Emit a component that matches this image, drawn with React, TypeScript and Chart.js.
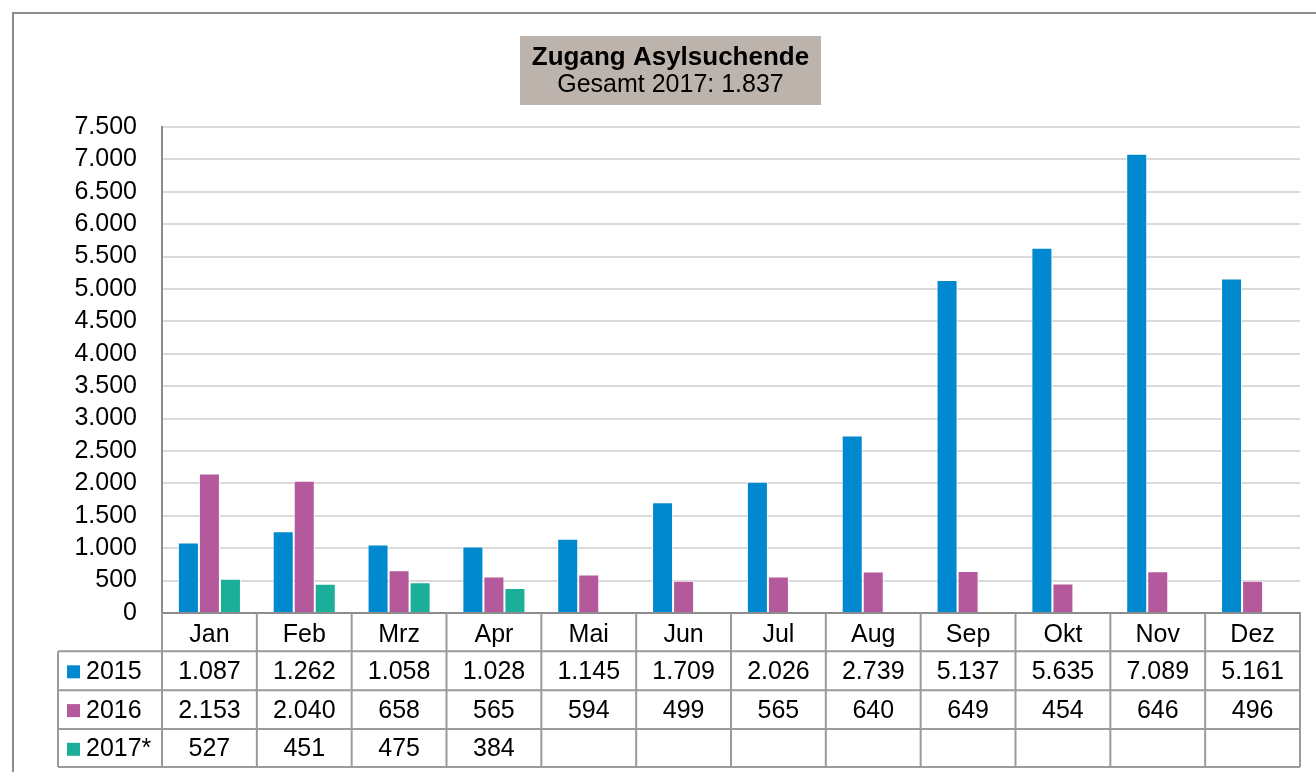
import { useEffect, useRef } from 'react';
import { Chart, registerables } from 'chart.js';

Chart.register(...registerables);

const months = ['Jan', 'Feb', 'Mrz', 'Apr', 'Mai', 'Jun', 'Jul', 'Aug', 'Sep', 'Okt', 'Nov', 'Dez'];
const values2015 = [1087, 1262, 1058, 1028, 1145, 1709, 2026, 2739, 5137, 5635, 7089, 5161];
const values2016 = [2153, 2040, 658, 565, 594, 499, 565, 640, 649, 454, 646, 496];
const values2017 = [527, 451, 475, 384, null, null, null, null, null, null, null, null];
const seriesLabels = ['2015', '2016', '2017*'];
const seriesColors = ['#0089CE', '#B45A9C', '#1BAF9A'];
const yMin = 0;
const yMax = 7500;
const yStep = 500;
const titleLine1 = 'Zugang Asylsuchende';
const titleLine2 = 'Gesamt 2017: 1.837';

const FONT = '"Liberation Sans", Arial, Helvetica, sans-serif';

function fmt(v: number | null | undefined): string {
  if (v === null || v === undefined) return '';
  const s = Math.round(v).toString();
  return s.replace(/\B(?=(\d{3})+(?!\d))/g, '.');
}

const framePlugin = {
  id: 'frameTitleTable',
  beforeDraw(chart: any) {
    const ctx = chart.ctx as CanvasRenderingContext2D;
    ctx.save();
    ctx.fillStyle = '#ffffff';
    ctx.fillRect(0, 0, chart.width, chart.height);
    ctx.strokeStyle = '#8C8C8C';
    ctx.lineWidth = 2;
    ctx.strokeRect(13, 13, 1340, 820);
    // title box
    ctx.fillStyle = '#BCB3AD';
    ctx.fillRect(520, 36, 301, 69);
    ctx.fillStyle = '#000000';
    ctx.textAlign = 'center';
    ctx.textBaseline = 'alphabetic';
    ctx.font = `bold 26px ${FONT}`;
    ctx.fillText(titleLine1, 670.5, 65);
    ctx.font = `25px ${FONT}`;
    ctx.fillText(titleLine2, 670.5, 92);
    ctx.restore();
  },
  afterDraw(chart: any) {
    const ctx = chart.ctx as CanvasRenderingContext2D;
    const area = chart.chartArea;
    const xs = chart.scales.x;
    const n = chart.data.labels.length;
    const w = (area.right - area.left) / n;
    const b = area.bottom;
    const rows = [b, b + 38.3, b + 77.3, b + 116, b + 154];
    const legendLeft = 58;
    ctx.save();
    ctx.strokeStyle = '#9B9B9B';
    ctx.lineWidth = 2;
    ctx.beginPath();
    for (let r = 1; r < rows.length; r++) {
      ctx.moveTo(legendLeft, rows[r]);
      ctx.lineTo(area.right, rows[r]);
    }
    for (let i = 0; i <= n; i++) {
      const x = area.left + i * w;
      ctx.moveTo(x, b);
      ctx.lineTo(x, rows[4]);
    }
    ctx.moveTo(legendLeft, rows[1]);
    ctx.lineTo(legendLeft, rows[4]);
    ctx.stroke();

    ctx.fillStyle = '#000000';
    ctx.font = `25px ${FONT}`;
    ctx.textBaseline = 'alphabetic';
    ctx.textAlign = 'center';
    const baselines = [b + 28.5, b + 65.8, b + 104.6, b + 143.3];
    chart.data.labels.forEach((lab: string, i: number) => {
      ctx.fillText(lab, xs.getPixelForValue(i), baselines[0]);
    });
    chart.data.datasets.forEach((ds: any, k: number) => {
      ds.data.forEach((v: number | null, i: number) => {
        const t = fmt(v);
        if (t) ctx.fillText(t, xs.getPixelForValue(i), baselines[k + 1]);
      });
    });
    // legend column
    ctx.textAlign = 'left';
    chart.data.datasets.forEach((ds: any, k: number) => {
      const y = baselines[k + 1];
      ctx.fillStyle = ds.backgroundColor;
      ctx.fillRect(67, y - 13.5, 13, 13);
      ctx.fillStyle = '#000000';
      ctx.fillText(ds.label, 86, y);
    });
    ctx.restore();
  },
};

export default function App() {
  const ref = useRef<HTMLCanvasElement | null>(null);
  useEffect(() => {
    if (!ref.current) return;
    const series = [values2015, values2016, values2017];
    const chart = new Chart(ref.current, {
      type: 'bar',
      data: {
        labels: months,
        datasets: series.map((d, k) => ({
          label: seriesLabels[k],
          data: d,
          backgroundColor: seriesColors[k],
          borderColor: 'rgba(255,255,255,0.85)',
          borderWidth: 1,
          borderSkipped: 'start',
          categoryPercentage: 0.665,
          barPercentage: 1,
        })),
      },
      options: {
        responsive: false,
        animation: false,
        layout: { padding: { left: 12, right: 16, top: 127, bottom: 159 } },
        plugins: {
          legend: { display: false },
          title: { display: false },
          tooltip: { enabled: false },
        },
        scales: {
          x: {
            grid: { display: false },
            ticks: { display: false },
            border: { display: true, color: '#8C8C8C', width: 2 },
            afterFit: (s: any) => {
              s.height = 0;
            },
          },
          y: {
            min: yMin,
            max: yMax,
            ticks: {
              stepSize: yStep,
              autoSkip: false,
              padding: 25,
              color: '#000000',
              font: { family: FONT, size: 25 },
              callback: (v: any) => fmt(Number(v)),
            },
            grid: {
              drawTicks: false,
              color: (c: any) => (c.tick && c.tick.value === 0 ? 'rgba(0,0,0,0)' : '#DADADA'),
              lineWidth: 2,
            },
            border: { display: true, color: '#8C8C8C', width: 2 },
            afterFit: (s: any) => {
              s.width = 150;
            },
          },
        },
      },
      plugins: [framePlugin],
    });
    return () => chart.destroy();
  }, []);
  return (
    <div style={{ position: 'fixed', left: 0, top: 0, width: 1316, height: 772 }}>
      <canvas ref={ref} width={1316} height={772} style={{ width: 1316, height: 772, display: 'block' }} />
    </div>
  );
}
